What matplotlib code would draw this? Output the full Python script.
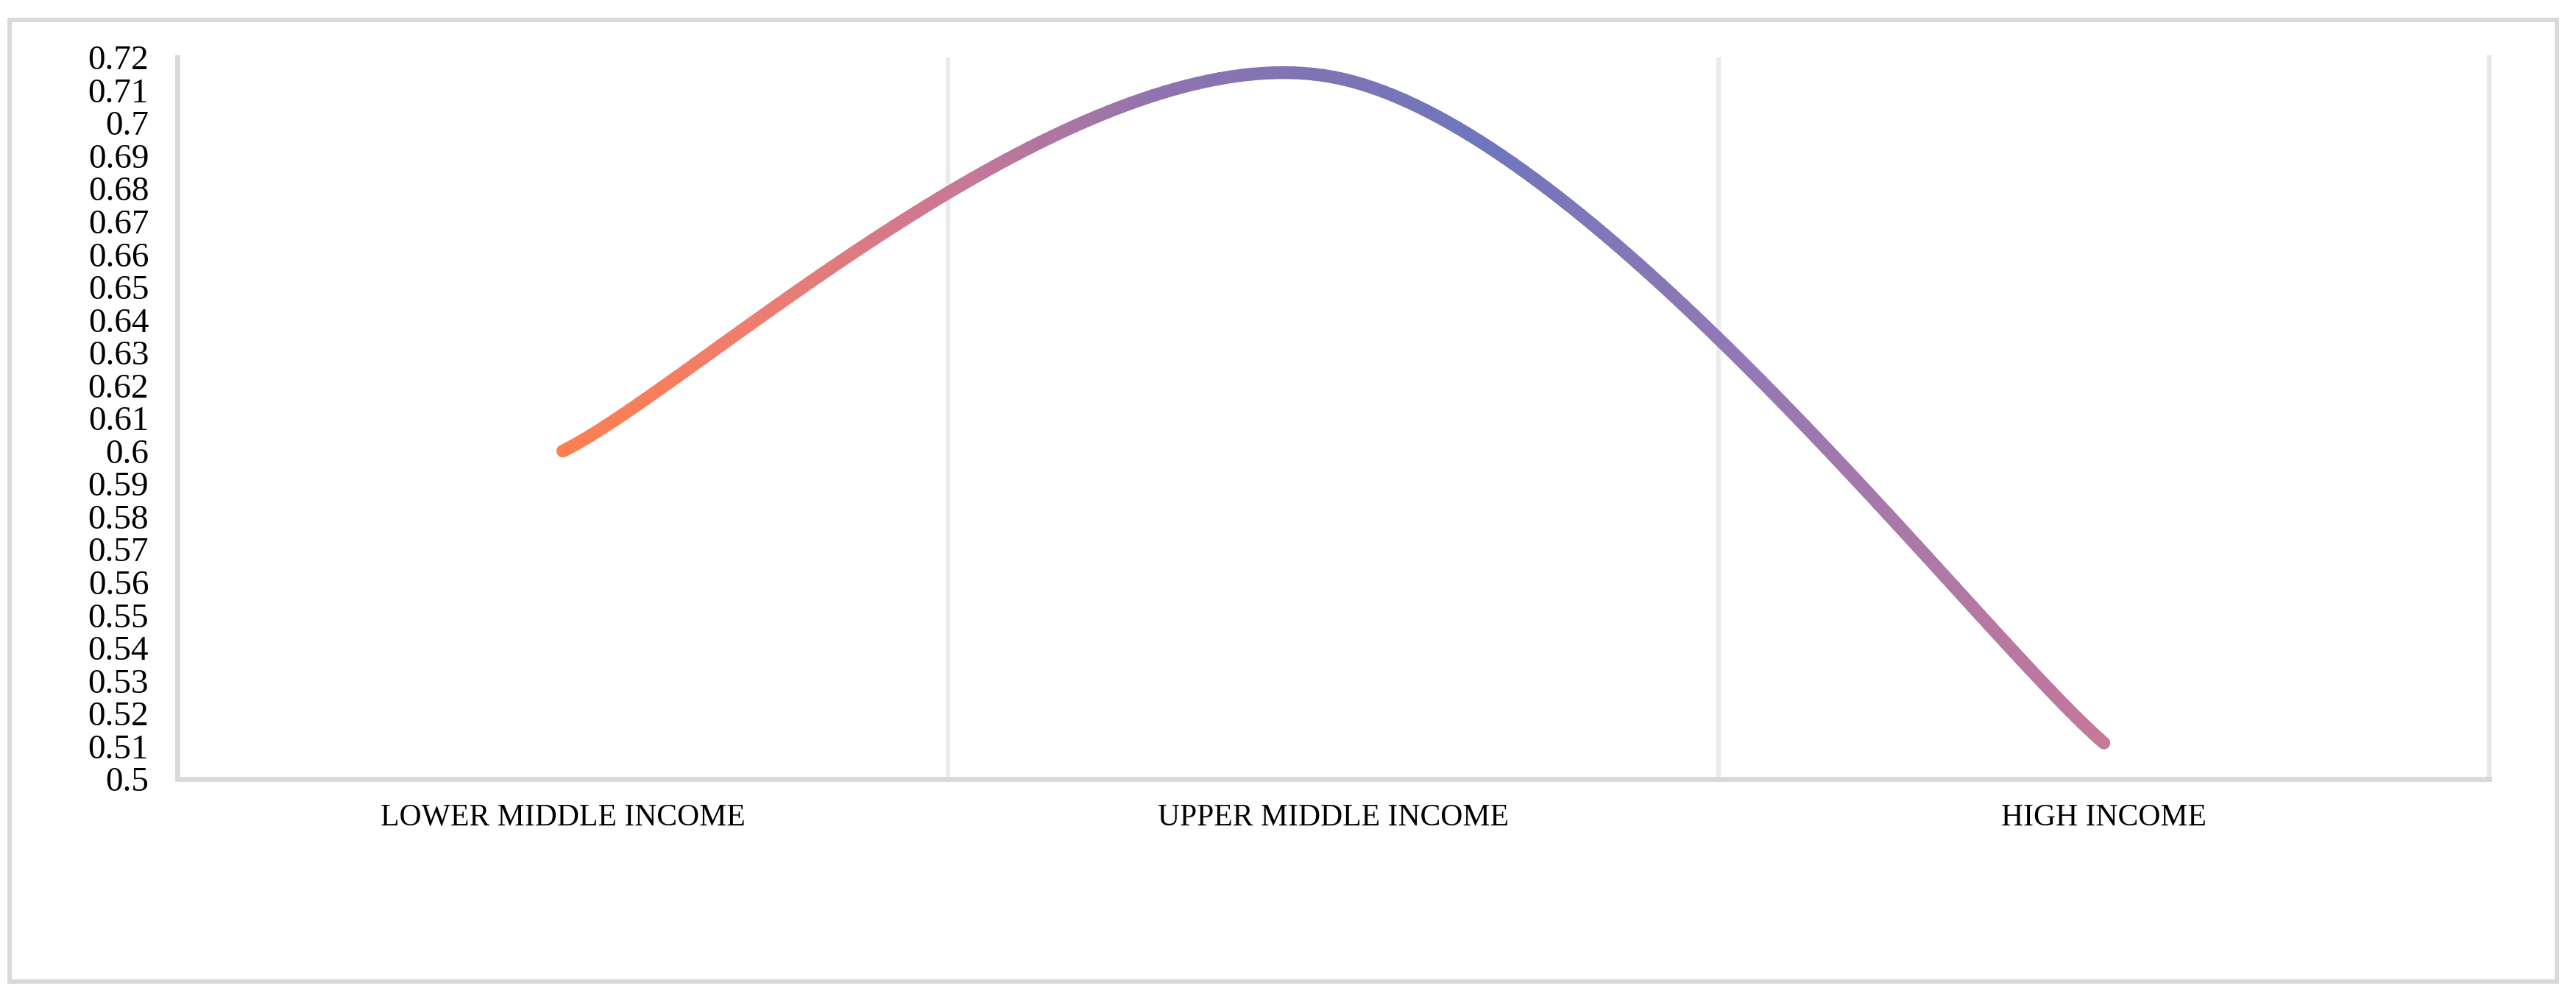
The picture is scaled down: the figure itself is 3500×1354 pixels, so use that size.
import numpy as np
import matplotlib
matplotlib.use("Agg")
import matplotlib.pyplot as plt
from matplotlib.collections import LineCollection
from matplotlib.colors import LinearSegmentedColormap
from matplotlib.patches import Rectangle

# data
categories = ["Lower middle income", "Upper middle income", "High income"]
values = [0.600, 0.714, 0.511]
y_ticks = [0.50, 0.51, 0.52, 0.53, 0.54, 0.55, 0.56, 0.57, 0.58, 0.59, 0.60,
           0.61, 0.62, 0.63, 0.64, 0.65, 0.66, 0.67, 0.68, 0.69, 0.70, 0.71, 0.72]

# gradient stops along the line (fraction of x span, colour)
grad_stops = [(0.00, "#fd7f4f"), (0.12, "#f07d6e"), (0.26, "#c87896"),
              (0.40, "#8c73af"), (0.60, "#6e76bc"), (0.78, "#9678b4"),
              (1.00, "#c4789a")]


def smooth_curve(xs, ys, n=80):
    # excel style smoothed line: cubic bezier through every point
    pts = np.column_stack([xs, ys]).astype(float)
    out = []
    for i in range(len(pts) - 1):
        p0 = pts[max(i - 1, 0)]
        p1 = pts[i]
        p2 = pts[i + 1]
        p3 = pts[min(i + 2, len(pts) - 1)]
        c1 = p1 + (p2 - p0) / 6.0
        c2 = p2 - (p3 - p1) / 6.0
        t = np.linspace(0, 1, n)[:, None]
        seg = ((1 - t) ** 3) * p1 + 3 * ((1 - t) ** 2) * t * c1 \
            + 3 * (1 - t) * t ** 2 * c2 + t ** 3 * p2
        if i > 0:
            seg = seg[1:]
        out.append(seg)
    return np.vstack(out)


fig = plt.figure(figsize=(35, 13.54), dpi=100)
fig.patch.set_facecolor("white")

# outer chart frame
fig.patches.append(Rectangle((0.0037, 0.0155), 0.9889, 0.9645,
                             transform=fig.transFigure, fill=False,
                             edgecolor="#d9d9d9", linewidth=4.3))

ax = fig.add_axes([0.0689, 0.2186, 0.8974, 0.7238])

x = np.arange(len(categories))
curve = smooth_curve(x, values)
pts = curve.reshape(-1, 1, 2)
segs = np.concatenate([pts[:-1], pts[1:]], axis=1)

cmap = LinearSegmentedColormap.from_list("line_grad", grad_stops)
frac = (curve[:-1, 0] + curve[1:, 0]) / 2.0 / x[-1]
lc = LineCollection(segs, colors=cmap(frac), linewidths=12.5,
                    capstyle="round", joinstyle="round", zorder=3)
ax.add_collection(lc)

ax.set_xlim(-0.5, len(categories) - 0.5)
ax.set_ylim(y_ticks[0], y_ticks[-1])

# vertical gridlines between categories
for b in np.arange(0.5, len(categories) - 0.5, 1.0):
    ax.axvline(b, color="#ebebeb", linewidth=4.5, zorder=1)

ax.spines["top"].set_visible(False)
ax.spines["right"].set_color("#e6e6e6")
ax.spines["right"].set_linewidth(4.5)
for s in ["left", "bottom"]:
    ax.spines[s].set_color("#d9d9d9")
    ax.spines[s].set_linewidth(5)

ax.set_yticks(y_ticks)
ax.set_yticklabels(["%g" % round(v, 2) for v in y_ticks],
                   fontfamily="Liberation Serif", fontsize=34)
ax.set_xticks(x)
ax.set_xticklabels([c.upper() for c in categories],
                   fontfamily="Liberation Serif", fontsize=30)
ax.tick_params(axis="y", length=0, pad=28)
ax.tick_params(axis="x", length=0, pad=24)

fig.savefig("out.png", dpi=100, facecolor="white")
